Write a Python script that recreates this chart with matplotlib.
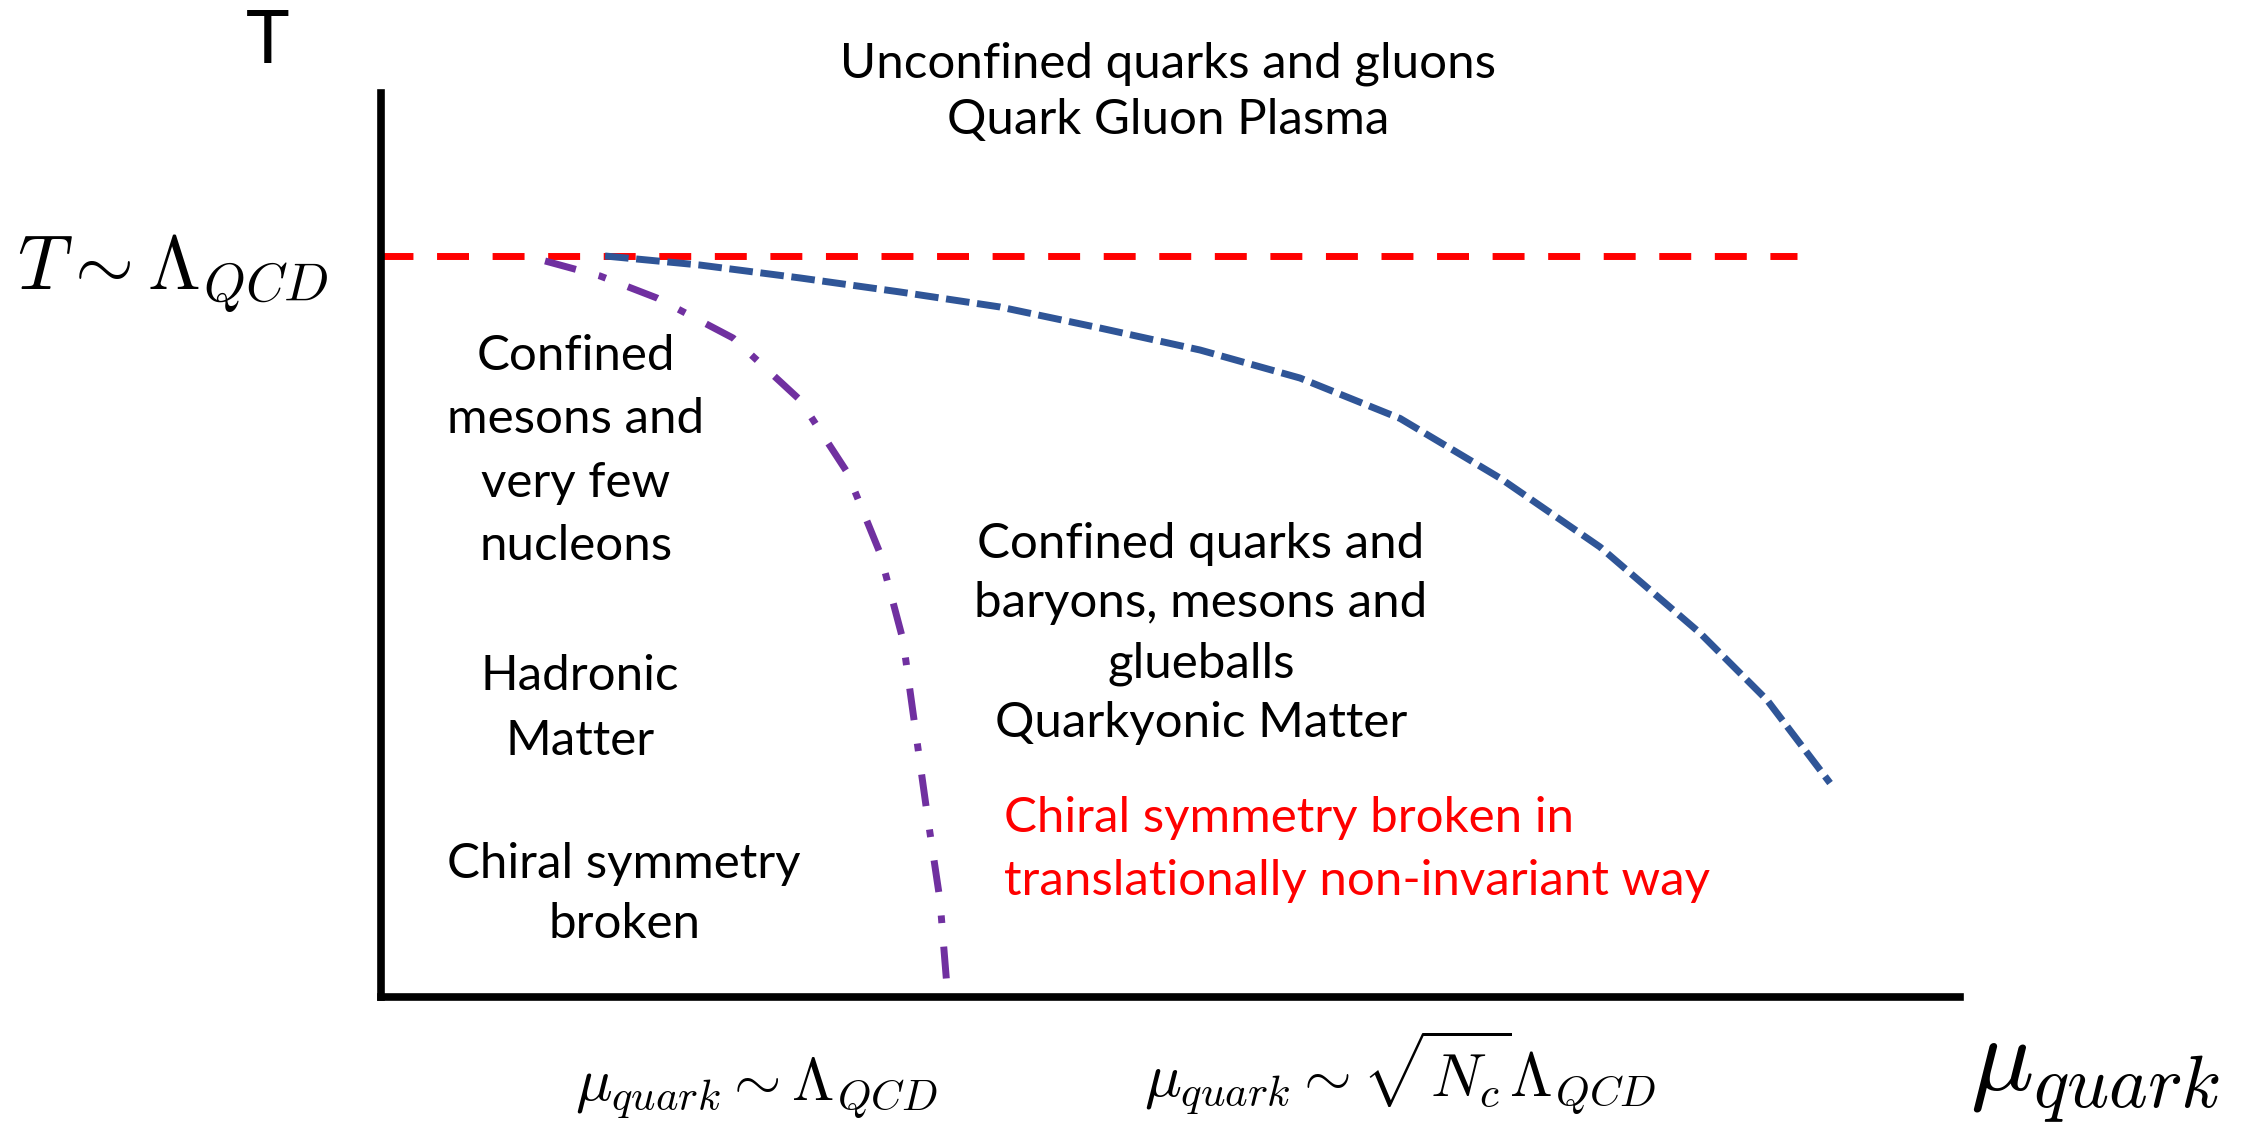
import matplotlib
matplotlib.use("Agg")
import matplotlib.pyplot as plt

# ---------------- data (axis units: mu 0..10, T 0..10) ----------------
T_LAMBDA = 8.197            # T ~ Lambda_QCD level
RED_X = [0.0, 8.97]
RED_T = [T_LAMBDA, T_LAMBDA]

BLUE_X = [1.419, 2.020, 2.654, 3.287, 3.920, 4.554, 5.187, 5.820, 6.454,
          7.087, 7.720, 8.353, 8.778, 9.177]
BLUE_T = [8.197, 8.097, 7.954, 7.799, 7.633, 7.400, 7.157, 6.847, 6.400,
          5.740, 4.978, 4.027, 3.285, 2.367]

PURPLE_X = [1.039, 1.387, 1.748, 2.229, 2.654, 2.951, 3.160, 3.306, 3.382,
            3.458, 3.540, 3.585]
PURPLE_T = [8.142, 7.976, 7.732, 7.290, 6.604, 5.808, 4.912, 3.949, 2.987,
            2.035, 1.073, 0.100]

TOP_LINES = ["Unconfined quarks and gluons", "Quark Gluon Plasma"]
LEFT_LINES = ["Confined", "mesons and", "very few", "nucleons"]
HADRON_LINES = ["Hadronic", "Matter"]
CHIRAL_LINES = ["Chiral symmetry", "broken"]
QUARKY_LINES = ["Confined quarks and", "baryons, mesons and", "glueballs",
                "Quarkyonic Matter"]
RED_LINES = ["Chiral symmetry broken in", "translationally non-invariant way"]
Y_LABEL = "T"
T_TICK = r"$T \sim \Lambda_{QCD}$"
MU1 = r"$\mu_{quark} \sim \Lambda_{QCD}$"
MU2 = r"$\mu_{quark} \sim \sqrt{N_c}\Lambda_{QCD}$"
X_LABEL = r"$\mu_{quark}$"

# ---------------- figure ----------------
W, H = 2247, 1122
plt.rcParams["mathtext.fontset"] = "cm"
fig = plt.figure(figsize=(W / 100, H / 100), dpi=100)
fig.patch.set_facecolor("white")

ax_l, ax_r, ax_b, ax_t = 381, 1960, 997, 93
ax = fig.add_axes([ax_l / W, 1 - ax_b / H, (ax_r - ax_l) / W, (ax_b - ax_t) / H])
ax.set_xlim(0, 10)
ax.set_ylim(0, 10)
ax.set_xticks([])
ax.set_yticks([])
ax.patch.set_alpha(0)
for s in ["top", "right"]:
    ax.spines[s].set_visible(False)
for s in ["left", "bottom"]:
    ax.spines[s].set_linewidth(5.5)
    ax.spines[s].set_color("black")
    ax.spines[s].set_capstyle("projecting")

RED = "#FF0000"
BLUE = "#2F5597"
PURPLE = "#7030A0"

ax.plot(RED_X, RED_T, color=RED, lw=5.0, dashes=(4.6, 3.4),
        dash_capstyle="butt", clip_on=False, zorder=2)
ax.plot(BLUE_X, BLUE_T, color=BLUE, lw=5.0, dashes=(3.4, 1.1),
        dash_capstyle="butt", dash_joinstyle="round", clip_on=False, zorder=3)
ax.plot(PURPLE_X, PURPLE_T, color=PURPLE, lw=5.0, dashes=(4.6, 3.4, 1.1, 3.4),
        dash_capstyle="butt", dash_joinstyle="round", clip_on=False, zorder=3)

renderer = fig.canvas.get_renderer()
FAM = "Lato"


def fit(s, target, family=FAM):
    t = fig.text(0, 0, s, fontsize=20, family=family)
    w = t.get_window_extent(renderer).width
    t.remove()
    return 20 * target / w


def put(x, y, s, size, ha="center", color="black", family=FAM, va="baseline"):
    return fig.text(x / W, 1 - y / H, s, fontsize=size, ha=ha, va=va,
                    color=color, family=family)


body = fit("baryons, mesons and", 453)

for s, y in zip(TOP_LINES, [78, 134]):
    put(1168, y, s, body)
for s, y in zip(LEFT_LINES, [370, 433, 497, 560]):
    put(576, y, s, body)
for s, y in zip(HADRON_LINES, [690, 755]):
    put(580, y, s, body)
for s, y in zip(CHIRAL_LINES, [878, 938]):
    put(624, y, s, body)
for s, y in zip(QUARKY_LINES, [558, 617, 677, 737]):
    put(1201, y, s, body)
for s, y in zip(RED_LINES, [832, 895]):
    put(1004, y, s, body, ha="left", color=RED)

put(268, 63, Y_LABEL, 53)
put(173, 290, T_TICK, fit(T_TICK, 315))
put(756, 1100, MU1, fit(MU1, 365))
put(1400, 1097, MU2, fit(MU2, 515))
put(2095, 1090, X_LABEL, fit(X_LABEL, 256))

fig.savefig("out.png", dpi=100, facecolor="white")
